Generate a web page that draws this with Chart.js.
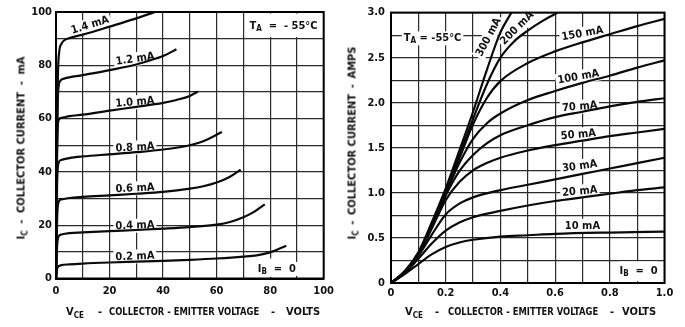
<!DOCTYPE html>
<html><head><meta charset="utf-8">
<script src="https://cdn.jsdelivr.net/npm/chart.js@4.4.1/dist/chart.umd.min.js"></script>
<style>
html,body{margin:0;padding:0;background:#fff;}
body{width:685px;height:327px;position:relative;overflow:hidden;font-family:'Liberation Sans Narrow','DejaVu Sans Condensed',sans-serif;font-weight:bold;color:#111;}
canvas{position:absolute;top:0;}
#cL{left:0}
#cR{left:340px}
.t{position:absolute;display:flex;justify-content:space-between;align-items:center;font-size:11px;line-height:14px;height:14px;white-space:nowrap;}
.p{position:absolute;font-size:11px;line-height:14px;height:14px;white-space:nowrap;top:305px;}
.c{transform:translateX(-50%);}
.n{transform:scaleX(0.85);transform-origin:0 50%;}
sub{font-size:8px;vertical-align:-3px;line-height:0;}
.r{transform:rotate(-90deg);transform-origin:50% 50%;}
</style></head><body>
<canvas id="cL" width="340" height="327"></canvas>
<canvas id="cR" width="345" height="327"></canvas>
<span class="p" style="left:66px">V<sub>CE</sub></span><span class="p c" style="left:100px">-</span><span class="p n" style="left:109px">COLLECTOR - EMITTER VOLTAGE</span><span class="p c" style="left:273px">-</span><span class="p" style="left:286px">VOLTS</span>
<span class="p" style="left:405px">V<sub>CE</sub></span><span class="p c" style="left:437px">-</span><span class="p n" style="left:448px">COLLECTOR - EMITTER VOLTAGE</span><span class="p c" style="left:612px">-</span><span class="p" style="left:622px">VOLTS</span>
<div class="t r" style="left:-70px;top:141px;width:183px"><span>I<sub>C</sub></span><span>-</span><span>COLLECTOR CURRENT</span><span>-</span><span>mA</span></div>
<div class="t r" style="left:256px;top:136px;width:193px"><span>I<sub>C</sub></span><span>-</span><span>COLLECTOR CURRENT</span><span>-</span><span>AMPS</span></div>
<script>
// ---------- DATA: left panel (VCE volts, IC mA) ----------
const leftBaseCurrents = ['0.2 mA','0.4 mA','0.6 mA','0.8 mA','1.0 mA','1.2 mA','1.4 mA'];
const ib02 = [[0,0],[0.4,3.5],[1,4.6],[2,5.0],[5,5.3],[10,5.6],[20,6.0],[30,6.3],[40,6.6],[50,7.0],[60,7.5],[70,8.2],[75,8.7],[80,9.8],[86,12.3]];
const ib04 = [[0,0],[0.4,12],[1,15.8],[2,16.5],[5,17.0],[10,17.3],[20,17.8],[30,18.2],[40,18.7],[50,19.3],[60,20.2],[65,21.2],[70,23],[74,25],[78,27.8]];
const ib06 = [[0,0],[0.4,22],[1,28.8],[2,29.7],[5,30.2],[10,30.6],[20,31.2],[30,31.8],[40,32.5],[50,33.7],[55,34.6],[60,36],[65,38.2],[69,40.8]];
const ib08 = [[0,0],[0.4,35],[1,43.5],[2,44.5],[5,45.2],[10,45.8],[20,46.6],[30,47.4],[40,48.4],[50,50.0],[55,51.5],[62,55]];
const ib10 = [[0,0],[0.4,48],[1,59.5],[2,60.3],[5,60.9],[10,61.5],[20,63],[30,64.4],[40,65.9],[45,67],[50,68.5],[53,70.2]];
const ib12 = [[0,0],[0.4,55],[0.8,70],[1.5,74],[3,75],[10,76.3],[20,78.2],[30,80.3],[35,81.8],[40,83.5],[45,86]];
const ib14 = [[0,0],[0.3,40],[0.7,75],[1.2,85],[2,88],[3,89.3],[5,90.2],[10,91.5],[20,94.5],[30,97.6],[37,100]];
const leftXTicks = ['0','20','40','60','80','100'];
const leftYTicks = ['0','20','40','60','80','100'];

// ---------- DATA: right panel (VCE volts, IC amps) ----------
const rightBaseCurrents = ['10 mA','20 mA','30 mA','50 mA','70 mA','100 mA','150 mA','200 mA','300 mA'];
const r10  = [[0,0],[0.05,0.1],[0.1,0.21],[0.15,0.32],[0.2,0.4],[0.25,0.45],[0.3,0.48],[0.4,0.515],[0.5,0.53],[0.6,0.545],[0.8,0.56],[1.0,0.57]];
const r20  = [[0,0],[0.05,0.11],[0.1,0.27],[0.15,0.44],[0.2,0.58],[0.25,0.67],[0.3,0.73],[0.4,0.8],[0.5,0.86],[0.6,0.91],[0.7,0.95],[0.8,0.99],[0.9,1.03],[1.0,1.06]];
const r30  = [[0,0],[0.05,0.12],[0.1,0.3],[0.15,0.54],[0.2,0.76],[0.25,0.88],[0.3,0.95],[0.4,1.03],[0.5,1.09],[0.6,1.15],[0.7,1.21],[0.8,1.27],[0.9,1.33],[1.0,1.39]];
const r50  = [[0,0],[0.05,0.12],[0.1,0.31],[0.15,0.61],[0.2,0.92],[0.25,1.12],[0.3,1.25],[0.35,1.33],[0.4,1.39],[0.5,1.47],[0.6,1.53],[0.7,1.58],[0.8,1.63],[0.9,1.67],[1.0,1.71]];
const r70  = [[0,0],[0.05,0.12],[0.1,0.32],[0.15,0.63],[0.2,0.97],[0.25,1.24],[0.3,1.42],[0.35,1.55],[0.4,1.64],[0.5,1.75],[0.6,1.84],[0.7,1.9],[0.8,1.96],[0.9,2.01],[1.0,2.05]];
const r100 = [[0,0],[0.05,0.12],[0.1,0.32],[0.15,0.64],[0.2,0.99],[0.25,1.33],[0.3,1.6],[0.35,1.77],[0.4,1.88],[0.5,2.03],[0.6,2.13],[0.7,2.22],[0.8,2.3],[0.9,2.39],[1.0,2.47]];
const r150 = [[0,0],[0.05,0.12],[0.1,0.33],[0.15,0.65],[0.2,1.0],[0.25,1.38],[0.3,1.76],[0.35,2.05],[0.4,2.24],[0.5,2.44],[0.6,2.57],[0.7,2.67],[0.8,2.76],[0.9,2.85],[1.0,2.93]];
const r200 = [[0,0],[0.05,0.13],[0.1,0.33],[0.15,0.66],[0.2,1.02],[0.25,1.42],[0.3,1.82],[0.35,2.2],[0.4,2.5],[0.45,2.68],[0.5,2.8],[0.55,2.9],[0.61,3.0]];
const r300 = [[0,0],[0.05,0.13],[0.1,0.34],[0.15,0.68],[0.2,1.05],[0.25,1.47],[0.3,1.9],[0.35,2.36],[0.4,2.78],[0.44,3.0]];
const rightXTicks = ['0','0.2','0.4','0.6','0.8','1.0'];
const rightYTicks = ['0','0.5','1.0','1.5','2.0','2.5','3.0'];

const FAM = "'Liberation Sans Narrow','DejaVu Sans Condensed',sans-serif";

// ---------- label helpers ----------
function partsWidth(ctx, parts, size){
  let w = 0;
  parts.forEach(p=>{ ctx.font = `bold ${p.sub?Math.round(size*0.72):size}px ${FAM}`; w += ctx.measureText(p.t).width; });
  return w;
}
function labelGeom(chart, L){
  const {x, y} = chart.scales;
  return {cx: x.getPixelForValue(L.x), cy: y.getPixelForValue(L.y)};
}
const overlay = {
  id: 'overlay',
  beforeDatasetsDraw(chart, args, opts){
    const ctx = chart.ctx, {x, y} = chart.scales;
    ctx.save();
    ctx.fillStyle = '#fff';
    (opts.boxes||[]).forEach(b=>{
      const x1 = x.getPixelForValue(b[0]), x2 = x.getPixelForValue(b[1]);
      const y1 = y.getPixelForValue(b[2]), y2 = y.getPixelForValue(b[3]);
      ctx.fillRect(Math.min(x1,x2), Math.min(y1,y2), Math.abs(x2-x1), Math.abs(y2-y1));
    });
    (opts.labels||[]).forEach(L=>{
      const {cx, cy} = labelGeom(chart, L);
      const size = L.size || 11;
      const w = partsWidth(ctx, L.parts, size);
      ctx.save();
      ctx.translate(cx, cy); ctx.rotate((L.rot||0)*Math.PI/180);
      ctx.fillStyle = '#fff';
      ctx.fillRect(-w/2-2, -size/2-1, w+4, size+3);
      ctx.restore();
    });
    ctx.restore();
  },
  afterDatasetsDraw(chart, args, opts){
    const ctx = chart.ctx, a = chart.chartArea;
    ctx.save();
    ctx.strokeStyle = '#000'; ctx.lineWidth = 2;
    ctx.strokeRect(a.left, a.top, a.right-a.left, a.bottom-a.top);
    ctx.fillStyle = '#111';
    ctx.textBaseline = 'middle';
    (opts.labels||[]).forEach(L=>{
      const {cx, cy} = labelGeom(chart, L);
      const size = L.size || 11;
      const w = partsWidth(ctx, L.parts, size);
      ctx.save();
      ctx.translate(cx, cy); ctx.rotate((L.rot||0)*Math.PI/180);
      let px = -w/2;
      L.parts.forEach(p=>{
        const s = p.sub ? Math.round(size*0.72) : size;
        ctx.font = `bold ${s}px ${FAM}`;
        ctx.fillText(p.t, px, p.sub ? 3.5 : 0.5);
        px += ctx.measureText(p.t).width;
      });
      ctx.restore();
    });
    ctx.restore();
  }
};

function series(pairs){ return pairs.map(([x,y])=>({x,y})); }
function ds(pairs, label){
  return {label, data: series(pairs), borderColor:'#0a0a0a', borderWidth:2.2, pointRadius:0, fill:false, cubicInterpolationMode:'monotone'};
}
function tickFont(){ return {family: FAM, size: 11, weight: 'bold'}; }

function makeChart(id, cfg){
  return new Chart(document.getElementById(id), {
    type: 'line',
    data: {datasets: cfg.datasets},
    options: {
      responsive:false, animation:false, events:[],
      layout: {padding: cfg.padding},
      plugins: {legend:{display:false}, tooltip:{enabled:false}, overlay: {labels: cfg.labels, boxes: cfg.boxes}},
      scales: {
        x: {type:'linear', min: cfg.x.min, max: cfg.x.max,
            afterFit: s=>{ s.height = cfg.xHeight; },
            grid: {color:'#2a2a2a', lineWidth:1.2, drawTicks:false},
            border: {color:'#000', width:2},
            ticks: {stepSize: cfg.x.step, autoSkip:false, maxRotation:0, padding: cfg.x.pad, color:'#111', font: tickFont(),
                    callback: cfg.x.cb}},
        y: {type:'linear', min: cfg.y.min, max: cfg.y.max,
            afterFit: s=>{ s.width = cfg.yWidth; },
            grid: {color:'#2a2a2a', lineWidth:1.2, drawTicks:false},
            border: {color:'#000', width:2},
            ticks: {stepSize: cfg.y.step, autoSkip:false, padding: cfg.y.pad, color:'#111', font: tickFont(),
                    callback: cfg.y.cb}}
      }
    },
    plugins: [overlay]
  });
}

// ---------- left chart ----------
const leftSeries = [ib02, ib04, ib06, ib08, ib10, ib12, ib14];
const leftLabelPos = [[29.5,8.4,-2],[29.5,20.0,-2],[29.5,34.0,-3],[29.5,49.3,-3],[29.5,66.3,-5],[29.5,82.5,-8],[12.7,95.2,-17]];
const leftLabels = leftBaseCurrents.map((t,i)=>({parts:[{t}], x:leftLabelPos[i][0], y:leftLabelPos[i][1], rot:leftLabelPos[i][2]}));
leftLabels.push({parts:[{t:'T'},{t:'A',sub:true},{t:'  =  - 55°C'}], x:85, y:95, rot:0});
leftLabels.push({parts:[{t:'I'},{t:'B',sub:true},{t:'  =  0'}], x:82.5, y:3.8, rot:0});
makeChart('cL', {
  datasets: leftSeries.map((p,i)=>ds(p, leftBaseCurrents[i])),
  padding: {left:0, right:14, top:12, bottom:0},
  xHeight: 48.5, yWidth: 56,
  x: {min:0, max:100, step:10, pad:6, cb: v => leftXTicks.includes(String(v)) ? String(v) : ''},
  y: {min:0, max:100, step:10, pad:4, cb: v => leftYTicks.includes(String(v)) ? String(v) : ''},
  labels: leftLabels,
  boxes: [[72.5,99.5,90.6,99.4],[76,89,0.6,7.5]]
});

// ---------- right chart ----------
const rightSeries = [r10, r20, r30, r50, r70, r100, r150, r200, r300];
const rightLabelPos = [[0.70,0.64,0],[0.69,1.02,-5],[0.69,1.30,-8],[0.685,1.65,-5],[0.69,1.96,-5],[0.685,2.29,-10],[0.70,2.77,-10],[0.46,2.83,-45],[0.356,2.73,-62]];
const rightLabels = rightBaseCurrents.map((t,i)=>({parts:[{t}], x:rightLabelPos[i][0], y:rightLabelPos[i][1], rot:rightLabelPos[i][2]}));
rightLabels.push({parts:[{t:'T'},{t:'A',sub:true},{t:' = -55°C'}], x:0.152, y:2.72, rot:0});
rightLabels.push({parts:[{t:'I'},{t:'B',sub:true},{t:'  =  0'}], x:0.905, y:0.14, rot:0});
function fmtR(v, labels){
  const s = Math.abs(v) < 1e-9 ? '0' : (Math.round(v*100)/100).toFixed(1);
  return labels.includes(s) ? s : '';
}
makeChart('cR', {
  datasets: rightSeries.map((p,i)=>ds(p, rightBaseCurrents[i])),
  padding: {left:0, right:20.5, top:11, bottom:0},
  xHeight: 44, yWidth: 51,
  x: {min:0, max:1.0, step:0.1, pad:4, cb: v => fmtR(v, rightXTicks)},
  y: {min:0, max:3.0, step:0.25, pad:6, cb: v => fmtR(v, rightYTicks)},
  labels: rightLabels,
  boxes: [[0.835,0.975,0.02,0.24]]
});
</script>
</body></html>
